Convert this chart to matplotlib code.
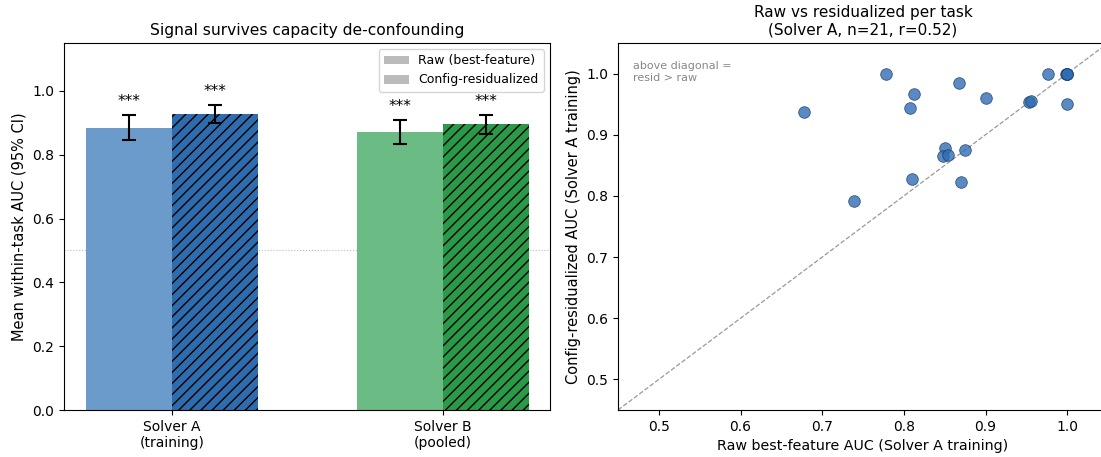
import numpy as np
import matplotlib.pyplot as plt
from matplotlib.patches import Patch

# ── data ─────────────────────────────────────────────────────────────────────
groups = ["Solver A\n(training)", "Solver B\n(pooled)"]
raw_auc = [0.885, 0.871]
raw_lo = [0.845, 0.833]
raw_hi = [0.924, 0.908]
resid_auc = [0.928, 0.896]
resid_lo = [0.899, 0.864]
resid_hi = [0.956, 0.924]
raw_colors = ["#6b9bcb", "#6bbb85"]
resid_colors = ["#2e6cae", "#2a9a48"]
stars = ["***", "***"]

# per-task best-feature AUC, Solver A training
task_raw = [0.678, 0.778, 0.739, 0.808, 0.813, 0.810, 0.867, 0.900, 0.851, 0.848,
            0.854, 0.875, 0.870, 0.953, 0.956, 0.976, 1.000, 0.998, 1.000, 1.000, 1.000]
task_resid = [0.938, 1.000, 0.791, 0.944, 0.967, 0.828, 0.985, 0.960, 0.879, 0.865,
              0.867, 0.875, 0.822, 0.953, 0.955, 1.000, 0.950, 1.000, 1.000, 1.000, 1.000]

fig = plt.figure(figsize=(11.01, 4.57), dpi=100)
ax1 = fig.add_axes([64 / 1101, 47 / 457, 486 / 1101, 367 / 457])
ax2 = fig.add_axes([618 / 1101, 47 / 457, 490 / 1101, 367 / 457])

# ── left: mean AUC bars ──────────────────────────────────────────────────────
w = 0.317
x = np.arange(len(groups))
for i in range(len(groups)):
    ax1.bar(x[i] - w / 2, raw_auc[i], w, color=raw_colors[i], zorder=2)
    ax1.bar(x[i] + w / 2, resid_auc[i], w, color=resid_colors[i], hatch="///",
            edgecolor="black", linewidth=0, zorder=2)
    for xc, m, lo, hi in [(x[i] - w / 2, raw_auc[i], raw_lo[i], raw_hi[i]),
                          (x[i] + w / 2, resid_auc[i], resid_lo[i], resid_hi[i])]:
        ax1.errorbar(xc, m, yerr=[[m - lo], [hi - m]], fmt="none", ecolor="black",
                     capsize=5, elinewidth=1.5, capthick=1.5, zorder=3)
        ax1.text(xc, hi + 0.02, stars[i], ha="center", va="bottom", fontsize=11)

ax1.axhline(0.5, color="#bbbbbb", linestyle=":", linewidth=0.8, zorder=1)
ax1.set_xticks(x)
ax1.set_xticklabels(groups, fontsize=10)
ax1.set_ylim(0, 1.15)
ax1.set_xlim(-0.3985, 1.395)
ax1.set_ylabel("Mean within-task AUC (95% CI)", fontsize=10.5)
ax1.set_title("Signal survives capacity de-confounding", fontsize=11.2)
handles = [Patch(facecolor="#bbbbbb", label="Raw (best-feature)"),
           Patch(facecolor="#bbbbbb", label="Config-residualized")]
ax1.legend(handles=handles, loc="upper right", fontsize=9)

# ── right: per-task scatter ──────────────────────────────────────────────────
lim = (0.45, 1.05)
ax2.plot(lim, lim, color="#999999", linestyle="--", linewidth=0.9, zorder=1)
ax2.scatter(task_raw, task_resid, s=70, color="#2f6db4", alpha=0.8,
            edgecolor="#1f3f66", linewidth=0.6, zorder=2)
ax2.set_xlim(*lim)
ax2.set_ylim(*lim)
ax2.set_xticks([0.5, 0.6, 0.7, 0.8, 0.9, 1.0])
ax2.set_yticks([0.5, 0.6, 0.7, 0.8, 0.9, 1.0])
ax2.set_xlabel("Raw best-feature AUC (Solver A training)", fontsize=10.3)
ax2.set_ylabel("Config-residualized AUC (Solver A training)", fontsize=10.5)
ax2.set_title(f"Raw vs residualized per task\n(Solver A, n={len(task_raw)}, r=0.52)", fontsize=11)
ax2.text(0.03, 0.95, "above diagonal =\nresid > raw", transform=ax2.transAxes,
         ha="left", va="top", fontsize=8, color="#888888")

fig.savefig("out.png", dpi=100)
